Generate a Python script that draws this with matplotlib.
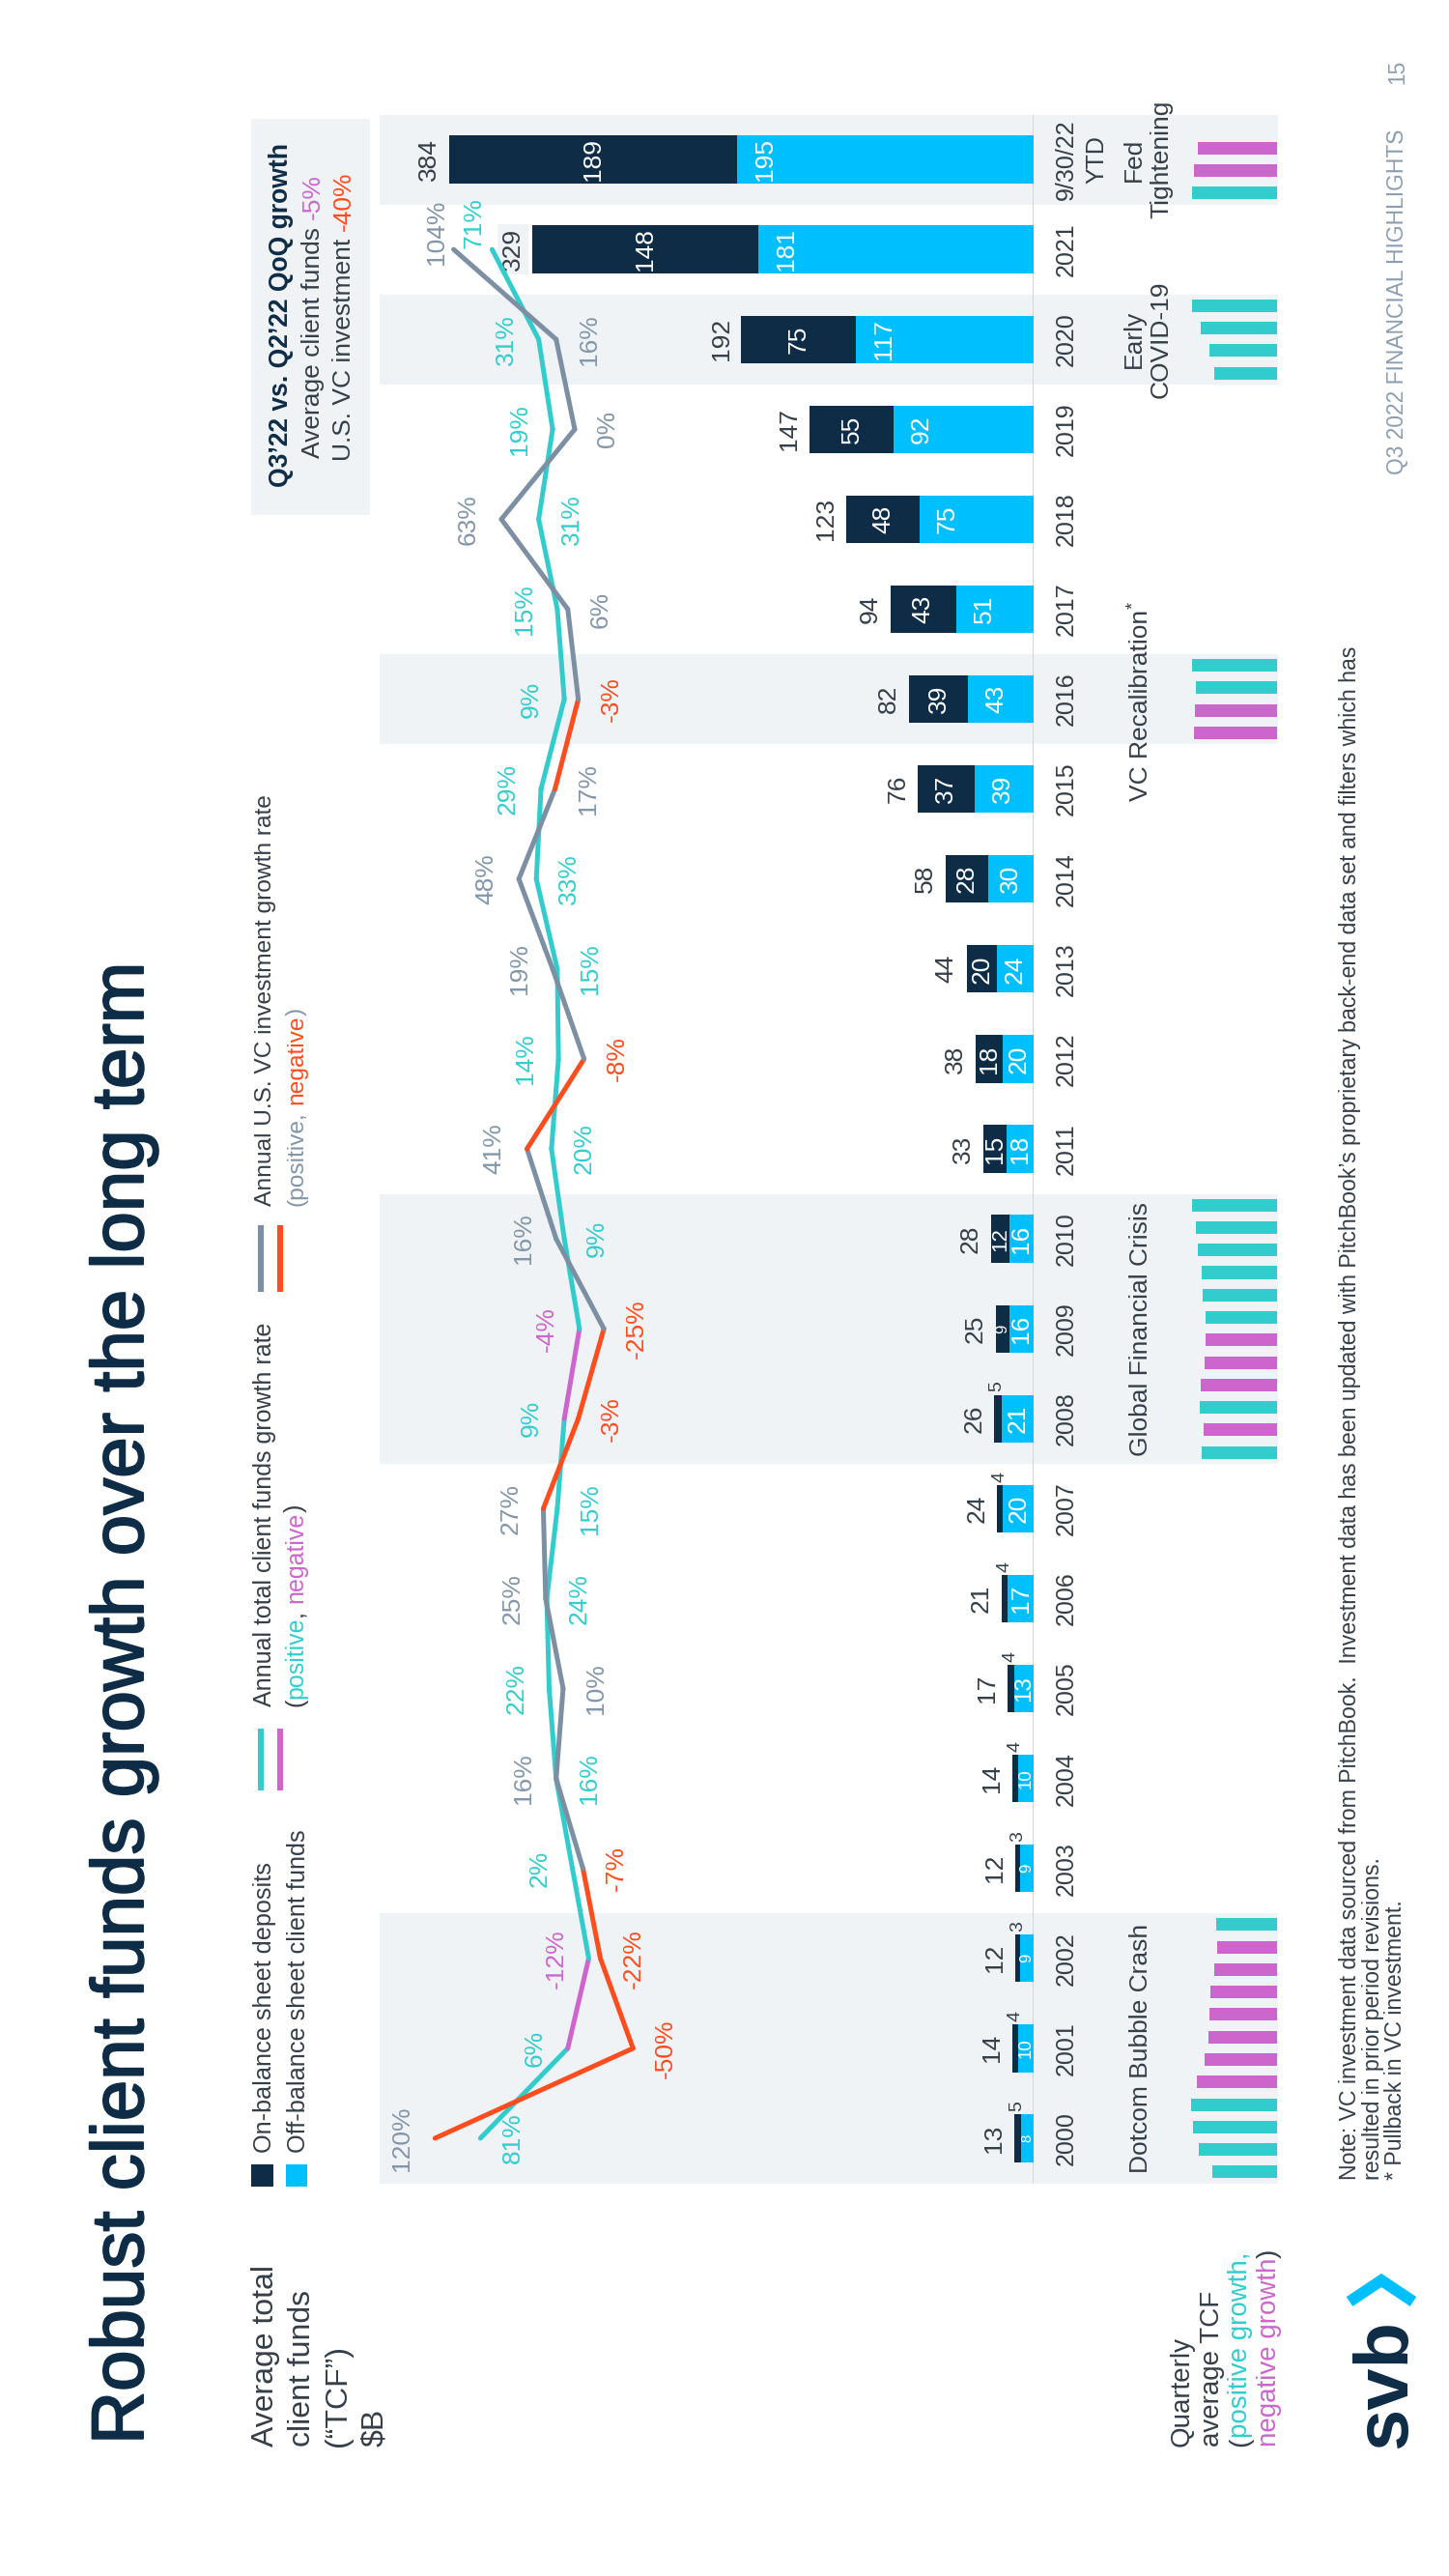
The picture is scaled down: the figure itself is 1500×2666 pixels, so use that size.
import numpy as np
import matplotlib
matplotlib.use("Agg")
import matplotlib.pyplot as plt
import matplotlib.patheffects as pe
from matplotlib.lines import Line2D
from matplotlib.patches import Rectangle

plt.rcParams["font.family"] = ["Liberation Sans", "DejaVu Sans"]

# ============================================================
# DATA
# ============================================================
years = list(range(2000, 2023))
year_labels = [str(y) for y in range(2000, 2022)] + ["9/30/22\nYTD"]
on_balance = [5, 4, 3, 3, 4, 4, 4, 4, 5, 9, 12, 15, 18, 20, 28, 37, 39, 43, 48, 55, 75, 148, 189]
off_balance = [8, 10, 9, 9, 10, 13, 17, 20, 21, 16, 16, 18, 20, 24, 30, 39, 43, 51, 75, 92, 117, 181, 195]
totals = [13, 14, 12, 12, 14, 17, 21, 24, 26, 25, 28, 33, 38, 44, 58, 76, 82, 94, 123, 147, 192, 329, 384]

# annual growth rates, 2000-2021 (%)
tcf_growth = [81, 6, -12, 2, 16, 22, 24, 15, 9, -4, 9, 20, 14, 15, 33, 29, 9, 15, 31, 19, 31, 71]
vc_growth = [120, -50, -22, -7, 16, 10, 25, 27, -3, -25, 16, 41, -8, 19, 48, 17, -3, 6, 63, 0, 16, 104]
# label side: a = above the point, b = below, e = line end
tcf_label_side = list("baaababbaabbabbaaabaae")
vc_label_side = list("abbbabaabbaabaabbbabbe")

# quarterly average TCF growth (relative bar length, sign = direction), Q1 first
qtr_start = [2000, 2008, 2016, 2020, 2022]
qtr_dotcom = [67, 81, 87, 89, -83, -75, -71, -70, -69, -65, -62, 63]
qtr_gfc = [78, -76, 80, -79, -75, -74, 74, 77, 78, 82, 84, 88]
qtr_vc = [-86, -85, 84, 88]
qtr_covid = [65, 70, 79, 88]
qtr_fed = [88, -86, -82]

event_names = ["Dotcom Bubble Crash", "Global Financial Crisis", "VC Recalibration",
               "Early\nCOVID-19", "Fed\nTightening"]
event_span = [(2000, 2002), (2008, 2010), (2016, 2016), (2020, 2020), (2022, 2022)]

note_lines = [
    "Note: VC investment data sourced from PitchBook.  Investment data has been updated with "
    "PitchBook\u2019s proprietary back-end data set and filters which has",
    "resulted in prior period revisions.",
    "* Pullback in VC investment.",
]

# ============================================================
# STYLE
# ============================================================
NAVY = "#0E2C46"
LIGHT = "#00BFFF"
TEAL = "#33CCCC"
PINK = "#CC66CC"
SLATE = "#7D8FA3"
RED = "#FF4D1F"
BAND = "#F0F3F6"
TEXT = "#353E47"
GRAYTXT = "#8395A8"
FOOT = "#8C9DB0"

W, H, DPI = 1500, 2666, 100
fig = plt.figure(figsize=(W / DPI, H / DPI), dpi=DPI)
renderer = fig.canvas.get_renderer()


def fx(x):
    return x / W


def fy(y):
    return 1 - y / H


def rot_text(x, y, parts, size, weight="normal", align="start", fit=None,
             color=TEXT, family=None, effects=None):
    """Text reading bottom-to-top; x = baseline column, y = start (or centre) row, image px."""
    if isinstance(parts, str):
        parts = [(parts, color)]
    items = []
    for s, c in parts:
        lead = len(s) - len(s.lstrip(" "))
        trail = len(s) - len(s.rstrip(" "))
        t = fig.text(0, 0, s.strip(" "), rotation=90, rotation_mode="anchor",
                     ha="left", va="baseline", color=c, fontsize=size, fontweight=weight)
        if family:
            t.set_family(family)
        if effects:
            t.set_path_effects(effects)
        items.append((t, lead, trail))

    def lengths(fs):
        sp = fs * DPI / 72 * 0.278
        out = []
        for t, lead, trail in items:
            t.set_fontsize(fs)
            out.append((lead * sp, t.get_window_extent(renderer).height, trail * sp))
        return out

    L = lengths(size)
    if fit:
        size *= fit / sum(sum(v) for v in L)
        L = lengths(size)
    total = sum(sum(v) for v in L)
    cur = y if align == "start" else y + total / 2
    for (t, _, _), (a, b, c) in zip(items, L):
        cur -= a
        t.set_position((fx(x), fy(cur)))
        cur -= b + c
    return cur, size


# ============================================================
# AXES (slide is rotated: years run bottom -> top, values grow leftwards)
# ============================================================
n = len(years)
idx = np.arange(n)
Y_TOP, Y_BOT = 118.5, 2259.5
ry0, rh = fy(Y_BOT), (Y_BOT - Y_TOP) / H
BAR_X0, BAR_X1 = 393, 1070
PX_PER_B = 1.576
ZERO_X, PX_PER_PCT = 595, 1.206

ax_bg = fig.add_axes([fx(BAR_X0), ry0, (1323 - BAR_X0) / W, rh])
ax_bar = fig.add_axes([fx(BAR_X0), ry0, (BAR_X1 - BAR_X0) / W, rh])
ax_line = fig.add_axes([fx(BAR_X0), ry0, (BAR_X1 - BAR_X0) / W, rh])
ax_q = fig.add_axes([fx(1222), ry0, 100 / W, rh])
for z, ax in enumerate([ax_bg, ax_q, ax_bar, ax_line]):
    ax.set_ylim(-0.5, n - 0.5)
    ax.axis("off")
    ax.set_zorder(z)
ax_bg.set_xlim(0, 1)
ax_bar.set_xlim((BAR_X1 - BAR_X0) / PX_PER_B, 0)
ax_line.set_xlim((ZERO_X - BAR_X0) / PX_PER_PCT, (ZERO_X - BAR_X1) / PX_PER_PCT)
ax_q.set_xlim(100, 0)


def yimg(i):
    return H - ax_bg.transData.transform((0, i))[1]


# shaded event periods
for a, b in event_span:
    ax_bg.axhspan(a - 2000 - 0.5, b - 2000 + 0.5, color=BAND, lw=0)

# ---- stacked bars ----
ax_bar.axvline(0, color="#D3D8DD", lw=1.5, zorder=0.5)
ax_bar.barh(idx, off_balance, height=0.53, color=LIGHT, lw=0)
ax_bar.barh(idx, on_balance, left=off_balance, height=0.53, color=NAVY, lw=0)

for i in idx:
    on, off, tot = on_balance[i], off_balance[i], totals[i]
    box = dict(boxstyle="square,pad=0.15", fc=BAND, ec="none") if years[i] == 2021 else None
    ax_bar.annotate(str(tot), (tot, i), xytext=(-15, 0), textcoords="offset points",
                    rotation=90, ha="center", va="center", fontsize=19, color=TEXT,
                    bbox=box, zorder=5)
    if on < 7:
        ax_bar.annotate(str(on), (tot, i), xytext=(2, 24), textcoords="offset points",
                        rotation=90, ha="center", va="center", fontsize=14, color=TEXT)
    else:
        ax_bar.text(off + on / 2, i, str(on), rotation=90, ha="center", va="center",
                    fontsize=min(19, 0.85 * on * PX_PER_B), color="white")
    ax_bar.text(off - min(18.4, off / 2), i, str(off), rotation=90, ha="center",
                va="center", fontsize=min(19, 0.85 * off * PX_PER_B), color="white")

# ---- growth lines ----
def draw_growth(vals, pos_c, neg_c):
    for i in range(len(vals) - 1):
        c = neg_c if vals[i + 1] < 0 else pos_c
        ax_line.plot(vals[i:i + 2], [i, i + 1], color=c, lw=3.6,
                     solid_capstyle="round", solid_joinstyle="round")


def growth_labels(vals, sides, pos_c, neg_c, end_off):
    for i, (v, s) in enumerate(zip(vals, sides)):
        d = {"a": (-24.5, 0), "b": (24.5, 0), "e": end_off}[s]
        ax_line.annotate(f"{v}%", (v, i), xytext=d, textcoords="offset points",
                         rotation=90, ha="center", va="center", fontsize=19,
                         color=neg_c if v < 0 else pos_c)


draw_growth(tcf_growth, TEAL, PINK)
draw_growth(vc_growth, SLATE, RED)
growth_labels(tcf_growth, tcf_label_side, TEAL, PINK, (-13.5, 20))
growth_labels(vc_growth, vc_label_side, GRAYTXT, RED, (-13, 13))

# ---- quarterly bars ----
q_pos, q_len, q_col = [], [], []
for start, vals in zip(qtr_start, [qtr_dotcom, qtr_gfc, qtr_vc, qtr_covid, qtr_fed]):
    for k, v in enumerate(vals):
        q_pos.append(start - 2000 + k // 4 + (k % 4 - 1.5) * 0.25)
        q_len.append(abs(v))
        q_col.append(TEAL if v > 0 else PINK)
ax_q.barh(q_pos, q_len, height=0.14, color=q_col, lw=0)

# ---- year and event labels ----
for i, lab in enumerate(year_labels):
    for base, line in zip([1111, 1142], lab.split("\n")):
        rot_text(base, yimg(i), line, 18, align="center")

for name, (a, b) in zip(event_names, event_span):
    yc = yimg((a + b) / 2 - 2000)
    lines = name.split("\n")
    bases = [1188] if len(lines) == 1 else [1181, 1209]
    for base, line in zip(bases, lines):
        if line == "VC Recalibration":
            end, _ = rot_text(base, yc + 6, line, 19, align="center")
            rot_text(base - 10, end - 1, "*", 13)
        else:
            rot_text(base, yc, line, 19, align="center")

# ============================================================
# TITLE, LEGEND, NOTES
# ============================================================
rot_text(148, 2530, "Robust client funds growth over the long term", 55, color=NAVY, fit=1534,
         effects=[pe.withStroke(linewidth=1.4, foreground=NAVY)])

for base, line in zip([283, 321, 358, 396], ["Average total", "client funds", "(\u201cTCF\u201d)", "$B"]):
    rot_text(base, 2532, line, 23)

fig.add_artist(Rectangle((fx(260), fy(2263)), 23 / W, 23 / H, transform=fig.transFigure,
                         color=NAVY, lw=0))
fig.add_artist(Rectangle((fx(296), fy(2263)), 22 / W, 23 / H, transform=fig.transFigure,
                         color=LIGHT, lw=0))
_, fs = rot_text(281, 2228, "On-balance sheet deposits", 18, fit=301)
rot_text(316, 2228, "Off-balance sheet client funds", fs)

for x, c in [(270, TEAL), (290, PINK)]:
    fig.add_artist(Line2D([fx(x)] * 2, [fy(1789), fy(1853)], transform=fig.transFigure,
                          color=c, lw=4.4, solid_capstyle="butt"))
_, fs = rot_text(281, 1766, "Annual total client funds growth rate", 18, fit=397)
rot_text(313, 1766, [("(", TEXT), ("positive", TEAL), (", ", TEXT), ("negative", PINK),
                     (")", TEXT)], fs)

for x, c in [(270, SLATE), (290, RED)]:
    fig.add_artist(Line2D([fx(x)] * 2, [fy(1268), fy(1337)], transform=fig.transFigure,
                          color=c, lw=4.4, solid_capstyle="butt"))
_, fs = rot_text(281, 1248, "Annual U.S. VC investment growth rate", 18, fit=426)
rot_text(313, 1248, [("(positive, ", GRAYTXT), ("negative", RED), (")", GRAYTXT)], fs)

# QoQ box
fig.add_artist(Rectangle((fx(260), fy(533)), 123 / W, 410 / H, transform=fig.transFigure,
                         color=BAND, lw=0))
rot_text(298, 326, "Q3\u201922 vs. Q2\u201922 QoQ growth", 19, weight="bold", color=NAVY,
         align="center", fit=357)
rot_text(331, 327, [("Average client funds ", TEXT), ("-5%", PINK)], 19, align="center")
rot_text(363, 327, [("U.S. VC investment ", TEXT), ("-40%", RED)], 19, align="center")

# quarterly legend
rot_text(1231, 2532, "Quarterly", 20)
rot_text(1262, 2532, "average TCF", 20)
rot_text(1291, 2532, [("(", TEXT), ("positive growth,", TEAL)], 20)
rot_text(1321, 2532, [("negative growth", PINK), (")", TEXT)], 20)

# notes
_, fs = rot_text(1404, 2256, note_lines[0], 15, fit=1593)
rot_text(1428, 2256, note_lines[1], fs)
rot_text(1451, 2256, note_lines[2], fs)

# footer
_, fs = rot_text(1453, 491, "Q3 2022 FINANCIAL HIGHLIGHTS", 16, color=FOOT, fit=357)
rot_text(1453, 87, "15", fs, color=FOOT)

# logo
rot_text(1455, 2534, "svb", 56, weight="bold", color=NAVY,
         family=["Liberation Sans Narrow", "Liberation Sans"])
fig.add_artist(Line2D([fx(1397), fx(1430), fx(1463)], [fy(2382), fy(2360), fy(2382)],
                      transform=fig.transFigure, color=LIGHT, lw=8.5,
                      solid_joinstyle="miter", solid_capstyle="butt"))

fig.savefig("out.png", dpi=DPI, facecolor="white")
